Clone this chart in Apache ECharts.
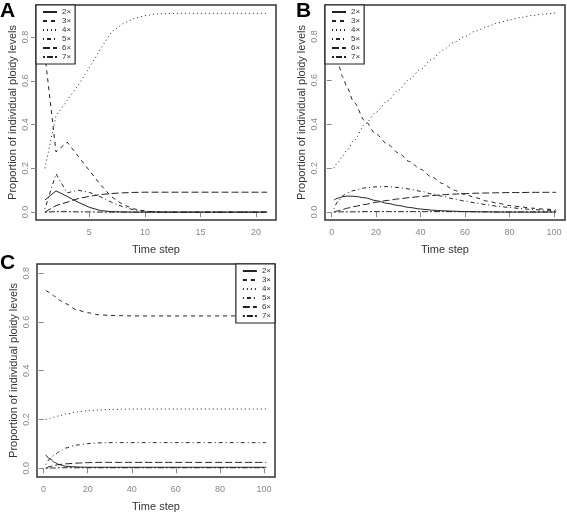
<!DOCTYPE html>
<html><head><meta charset="utf-8">
<script src="https://cdn.jsdelivr.net/npm/echarts@6/dist/echarts.min.js"></script>
<style>html,body{margin:0;padding:0;background:#fff}#c{width:567px;height:513px}</style>
</head><body><div id="c"></div>
<script>
const ploidyNames = ['2×','3×','4×','5×','6×','7×'];

// Panel A: time steps 1..21
const timeA = [1,2,3,4,5,6,7,8,9,10,11,12,13,14,15,16,17,18,19,20,21];
const a2x = [0.055,0.097,0.072,0.045,0.022,0.007,0.002,0.001,0,0,0,0,0,0,0,0,0,0,0,0,0];
const a3x = [0.72,0.275,0.32,0.255,0.19,0.125,0.07,0.035,0.015,0.005,0.001,0,0,0,0,0,0,0,0,0,0];
const a4x = [0.20,0.44,0.51,0.58,0.66,0.745,0.823,0.86,0.884,0.897,0.905,0.907,0.908,0.908,0.908,0.908,0.908,0.908,0.908,0.908,0.908];
const a5x = [0.015,0.175,0.088,0.10,0.09,0.07,0.045,0.025,0.01,0.004,0.001,0,0,0,0,0,0,0,0,0,0];
const a6x = [0,0.03,0.045,0.062,0.072,0.08,0.085,0.088,0.09,0.091,0.091,0.091,0.091,0.091,0.091,0.091,0.091,0.091,0.091,0.091,0.091];
const a7x = [0,0.002,0.002,0.001,0.001,0,0,0,0,0,0,0,0,0,0,0,0,0,0,0,0];

// Panels B and C: sampled time steps 1..101
const timeBC = [1,3,5,7,10,15,20,25,30,35,40,45,50,55,60,65,70,75,80,85,90,95,101];
const b2x = [0.055,0.064,0.07,0.073,0.072,0.065,0.052,0.04,0.03,0.021,0.014,0.009,0.006,0.004,0.002,0.001,0.001,0,0,0,0,0,0];
const b3x = [0.73,0.67,0.615,0.565,0.50,0.415,0.355,0.31,0.27,0.23,0.195,0.16,0.13,0.10,0.08,0.065,0.05,0.04,0.03,0.024,0.018,0.014,0.01];
const b4x = [0.20,0.228,0.256,0.284,0.326,0.40,0.455,0.505,0.555,0.605,0.65,0.695,0.738,0.772,0.80,0.825,0.845,0.862,0.875,0.886,0.895,0.902,0.907];
const b5x = [0.015,0.05,0.075,0.088,0.098,0.11,0.115,0.116,0.112,0.105,0.095,0.083,0.072,0.06,0.05,0.041,0.033,0.026,0.021,0.016,0.012,0.009,0.006];
const b6x = [0,0.006,0.012,0.018,0.025,0.035,0.045,0.053,0.06,0.066,0.071,0.075,0.079,0.082,0.084,0.086,0.087,0.088,0.089,0.089,0.09,0.09,0.09];
const b7x = [0,0.001,0.001,0.001,0.001,0.002,0.002,0.002,0.002,0.002,0.002,0.002,0.002,0.002,0.002,0.002,0.001,0.001,0.001,0.001,0.001,0.001,0.001];

const c2x = [0.055,0.037,0.024,0.015,0.008,0.005,0.004,0.004,0.004,0.004,0.004,0.004,0.004,0.004,0.004,0.004,0.004,0.004,0.004,0.004,0.004,0.004,0.004];
const c3x = [0.73,0.72,0.705,0.69,0.675,0.65,0.638,0.63,0.627,0.626,0.625,0.625,0.625,0.625,0.625,0.625,0.625,0.625,0.625,0.625,0.625,0.625,0.625];
const c4x = [0.20,0.205,0.21,0.215,0.222,0.231,0.236,0.239,0.241,0.242,0.243,0.243,0.243,0.243,0.243,0.243,0.243,0.243,0.243,0.243,0.243,0.243,0.243];
const c5x = [0.015,0.04,0.055,0.067,0.083,0.095,0.101,0.104,0.105,0.105,0.105,0.105,0.105,0.105,0.105,0.105,0.105,0.105,0.105,0.105,0.105,0.105,0.105];
const c6x = [0,0.007,0.012,0.015,0.018,0.021,0.023,0.024,0.024,0.024,0.024,0.024,0.024,0.024,0.024,0.024,0.024,0.024,0.024,0.024,0.024,0.024,0.024];
const c7x = [0,0.001,0.001,0.002,0.002,0.002,0.002,0.002,0.002,0.002,0.002,0.002,0.002,0.002,0.002,0.002,0.002,0.002,0.002,0.002,0.002,0.002,0.002];

const xTicksA = [5,10,15,20];
const xTicksBC = [0,20,40,60,80,100];
const yTicks = [0,0.2,0.4,0.6,0.8];
const panelLetters = ['A','B','C'];

const dashes = ['solid',[4,4],[1,3],[1,3,4,3],[7,3],[2,2,6,2]];
const zip = (xs, ys) => xs.map((x,i)=>[x, ys[i]]);

const chart = echarts.init(document.getElementById('c'), null, {renderer:'canvas'});
const FONT = 'Liberation Sans, Arial, sans-serif';

function xAxis(gi, min, max, ticks) {
  return {type:'value', gridIndex:gi, min, max,
    name:'Time step', nameLocation:'middle', nameGap:24,
    nameTextStyle:{fontSize:11, color:'#333', fontFamily:FONT},
    splitLine:{show:false}, axisLine:{show:false},
    axisTick:{show:true, length:5, customValues:ticks, lineStyle:{color:'#888'}},
    axisLabel:{customValues:ticks, fontSize:9, color:'#888', margin:8, fontFamily:FONT}};
}
function yAxis(gi, min, max) {
  return {type:'value', gridIndex:gi, min, max,
    name:'Proportion of individual ploidy levels', nameLocation:'middle', nameGap:18,
    nameTextStyle:{fontSize:11, color:'#333', fontFamily:FONT},
    splitLine:{show:false}, axisLine:{show:false},
    axisTick:{show:true, length:5, customValues:yTicks, lineStyle:{color:'#888'}},
    axisLabel:{customValues:yTicks, rotate:90, fontSize:9, color:'#888', margin:6, fontFamily:FONT,
      formatter:v=>v.toFixed(1)}};
}
function legend(pos) {
  return Object.assign({data:ploidyNames, orient:'vertical', itemWidth:14, itemHeight:8, itemGap:1,
    padding:[3,4,3,6], borderColor:'#222', borderWidth:1.2, backgroundColor:'#fff',
    itemStyle:{opacity:0},
    selectedMode:false, textStyle:{fontSize:8, color:'#333', lineHeight:8, fontFamily:FONT}}, pos);
}

const panels = [
  {t:timeA, ys:[a2x,a3x,a4x,a5x,a6x,a7x]},
  {t:timeBC, ys:[b2x,b3x,b4x,b5x,b6x,b7x]},
  {t:timeBC, ys:[c2x,c3x,c4x,c5x,c6x,c7x]}
];
const series = [];
panels.forEach((p, gi) => {
  p.ys.forEach((ys, k) => {
    series.push({type:'line', name:ploidyNames[k], xAxisIndex:gi, yAxisIndex:gi,
      data:zip(p.t, ys), symbol:'none', smooth: gi>0 ? 0.3 : false, smoothMonotone:'x',
      lineStyle:{color:'#222', width:1, type:dashes[k]}, itemStyle:{color:'#222'}, z:3});
  });
});

const gridStyle = {show:true, borderColor:'#333', borderWidth:1.5, containLabel:false};
chart.setOption({
  animation:false,
  backgroundColor:'#fff',
  grid:[
    Object.assign({left:36, top:5, width:240, height:215}, gridStyle),
    Object.assign({left:325, top:5, width:240, height:215}, gridStyle),
    Object.assign({left:37, top:264, width:238, height:216}, gridStyle)
  ],
  xAxis:[xAxis(0,0.2,21.8,xTicksA), xAxis(1,-3,105,xTicksBC), xAxis(2,-3,105,xTicksBC)],
  yAxis:[yAxis(0,-0.036,0.946), yAxis(1,-0.036,0.943), yAxis(2,-0.036,0.838)],
  legend:[legend({left:36, top:5}), legend({left:325, top:5}), legend({right:292, top:264})],
  series,
  graphic:[
    {type:'text', left:0, top:1, style:{text:panelLetters[0], font:'bold 21px Liberation Sans, Arial', fill:'#000'}},
    {type:'text', left:296, top:1, style:{text:panelLetters[1], font:'bold 21px Liberation Sans, Arial', fill:'#000'}},
    {type:'text', left:0, top:253, style:{text:panelLetters[2], font:'bold 21px Liberation Sans, Arial', fill:'#000'}}
  ]
});
</script></body></html>
